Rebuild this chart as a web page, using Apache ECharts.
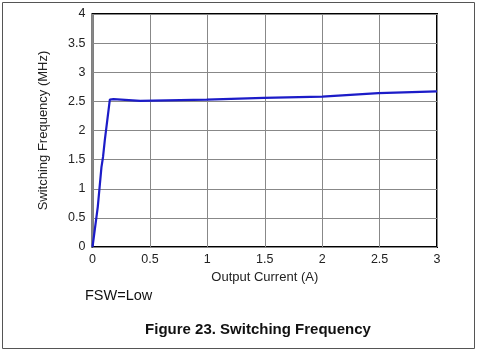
<!DOCTYPE html>
<html>
<head>
<meta charset="utf-8">
<script src="https://cdn.jsdelivr.net/npm/echarts@6/dist/echarts.min.js"></script>
<style>
html,body{margin:0;padding:0;background:#fff;}
#main{width:479px;height:354px;}
</style>
</head>
<body>
<div id="main"></div>
<script>
// values
var current = [0, 0.046, 0.078, 0.088, 0.092, 0.107, 0.151, 0.183, 0.415, 0.995, 1.49, 2.0, 2.49, 3.0];
var freq    = [0, 0.69, 1.37, 1.37, 1.55, 1.83, 2.53, 2.54, 2.51, 2.53, 2.56, 2.58, 2.64, 2.67];
var xTicks = [0, 0.5, 1, 1.5, 2, 2.5, 3];
var yTicks = [0, 0.5, 1, 1.5, 2, 2.5, 3, 3.5, 4];

var data = [];
for (var i = 0; i < current.length; i++) {
    data.push([current[i], freq[i]]);
}

var myChart = echarts.init(document.getElementById("main"), null, {renderer: "canvas"});
myChart.setOption({
    animation: false,
    textStyle: {fontFamily: "Liberation Sans"},
    graphic: [
        {
            type: "rect",
            shape: {x: 2.5, y: 2.5, width: 472, height: 346},
            style: {fill: null, stroke: "#555", lineWidth: 1},
            silent: true
        },
        {
            type: "text",
            x: 85, y: 296,
            style: {text: "FSW=Low", fontSize: 14.5, fill: "#111", fontFamily: "Liberation Sans", verticalAlign: "middle"}
        },
        {
            type: "text",
            x: 258, y: 330,
            style: {text: "Figure 23. Switching Frequency", fontSize: 15, fontWeight: "bold", fill: "#111",
                fontFamily: "Liberation Sans", align: "center", verticalAlign: "middle"}
        }
    ],
    grid: {
        left: 92.5,
        top: 14,
        width: 344.5,
        height: 233,
        show: true,
        borderColor: "#000",
        borderWidth: 2,
        backgroundColor: "#fff"
    },
    xAxis: {
        type: "value",
        min: 0, max: 3, interval: 0.5,
        name: "Output Current (A)",
        nameLocation: "middle",
        nameGap: 23,
        nameTextStyle: {fontSize: 13, color: "#222"},
        axisLine: {show: false},
        axisTick: {show: false},
        axisLabel: {fontSize: 12.5, color: "#222", margin: 6,
            formatter: function (v) { return xTicks.indexOf(v) >= 0 ? String(v) : ""; }},
        splitLine: {show: true, lineStyle: {color: "#888", width: 1}}
    },
    yAxis: {
        type: "value",
        min: 0, max: 4, interval: 0.5,
        name: "Switching Frequency (MHz)",
        nameLocation: "middle",
        nameGap: 43,
        nameTextStyle: {fontSize: 13, color: "#222"},
        axisLine: {show: false},
        axisTick: {show: false},
        axisLabel: {fontSize: 12.5, color: "#222", margin: 7,
            formatter: function (v) { return yTicks.indexOf(v) >= 0 ? String(v) : ""; }},
        splitLine: {show: true, lineStyle: {color: "#888", width: 1}}
    },
    series: [{
        type: "line",
        data: data,
        showSymbol: false,
        lineStyle: {color: "#1c1cc8", width: 2.2},
        z: 3
    }]
});
</script>
</body>
</html>
